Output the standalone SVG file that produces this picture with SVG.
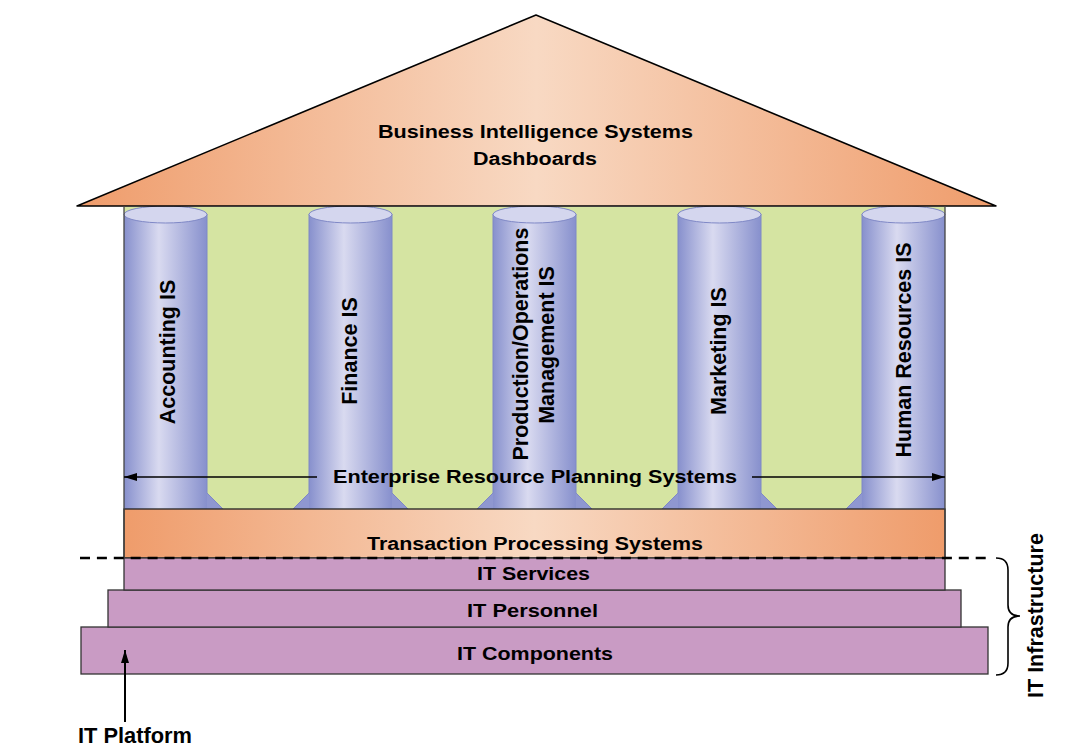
<svg xmlns="http://www.w3.org/2000/svg" width="1091" height="751" viewBox="0 0 1091 751">
<defs>
<linearGradient id="orange" x1="0" y1="0" x2="1" y2="0">
<stop offset="0" stop-color="#EF9C6B"/>
<stop offset="0.5" stop-color="#F8D9C3"/>
<stop offset="1" stop-color="#EF9C6B"/>
</linearGradient>
<linearGradient id="col" x1="0" y1="0" x2="1" y2="0">
<stop offset="0" stop-color="#8790CD"/>
<stop offset="0.42" stop-color="#D9DAF0"/>
<stop offset="1" stop-color="#8790CD"/>
</linearGradient>
<marker id="arr" viewBox="0 0 13 8" refX="13" refY="4" markerWidth="13" markerHeight="8" markerUnits="userSpaceOnUse" orient="auto">
<path d="M0,0 L13,4 L0,8 Z" fill="#000"/>
</marker>
</defs>
<style>
text{font-family:"Liberation Sans",Arial,sans-serif;font-weight:bold;fill:#000}
.h{font-size:17.5px;text-anchor:middle}
.v{font-size:21.5px;text-anchor:middle}
.body{fill:url(#col)}
.flare{fill:#8F97D0}
.edge{fill:none;stroke:#7F88C6;stroke-width:1}
.cap{fill:#D4D6EE;stroke:#7F88C6;stroke-width:1}
.layer{fill:#C99BC4;stroke:#333;stroke-width:1.3}
.ln{stroke:#000;stroke-width:1.6;fill:none}
</style>
<rect width="1091" height="751" fill="#fff"/>

<g id="building">
<rect x="124" y="207" width="821" height="302" fill="#D5E4A2"/>
</g>

<g id="col-accounting">
<rect class="body" x="124" y="214" width="83" height="295"/>
<polygon class="flare" points="207,493 223,509 207,509"/>
<path class="edge" d="M207,214 L207,493 L223,509"/>
<ellipse class="cap" cx="165.5" cy="214.5" rx="41.5" ry="8.5"/>
<text class="v" transform="translate(175,352) rotate(-90)">Accounting IS</text>
</g>

<g id="col-finance">
<rect class="body" x="309" y="214" width="83" height="295"/>
<polygon class="flare" points="309,493 293,509 309,509"/>
<polygon class="flare" points="392,493 408,509 392,509"/>
<path class="edge" d="M293,509 L309,493 L309,214 M392,214 L392,493 L408,509"/>
<ellipse class="cap" cx="350.5" cy="214.5" rx="41.5" ry="8.5"/>
<text class="v" transform="translate(357,351) rotate(-90)">Finance IS</text>
</g>

<g id="col-production">
<rect class="body" x="493" y="214" width="83" height="295"/>
<polygon class="flare" points="493,493 477,509 493,509"/>
<polygon class="flare" points="576,493 592,509 576,509"/>
<path class="edge" d="M477,509 L493,493 L493,214 M576,214 L576,493 L592,509"/>
<ellipse class="cap" cx="534.5" cy="214.5" rx="41.5" ry="8.5"/>
<text class="v" transform="translate(528,344) rotate(-90)">Production/Operations</text>
<text class="v" transform="translate(554,345) rotate(-90)">Management IS</text>
</g>

<g id="col-marketing">
<rect class="body" x="678" y="214" width="83" height="295"/>
<polygon class="flare" points="678,493 662,509 678,509"/>
<polygon class="flare" points="761,493 777,509 761,509"/>
<path class="edge" d="M662,509 L678,493 L678,214 M761,214 L761,493 L777,509"/>
<ellipse class="cap" cx="719.5" cy="214.5" rx="41.5" ry="8.5"/>
<text class="v" transform="translate(726,351) rotate(-90)">Marketing IS</text>
</g>

<g id="col-hr">
<rect class="body" x="862" y="214" width="83" height="295"/>
<polygon class="flare" points="862,493 846,509 862,509"/>
<path class="edge" d="M846,509 L862,493 L862,214"/>
<ellipse class="cap" cx="903.5" cy="214.5" rx="41.5" ry="8.5"/>
<text class="v" transform="translate(911,350) rotate(-90)">Human Resources IS</text>
</g>

<g id="roof">
<polygon points="77,206 536,15 996,206" fill="url(#orange)" stroke="#000" stroke-width="1.5" stroke-linejoin="round"/>
<text class="h" x="535.5" y="138" textLength="315" lengthAdjust="spacingAndGlyphs">Business Intelligence Systems</text>
<text class="h" x="535" y="165" textLength="124" lengthAdjust="spacingAndGlyphs">Dashboards</text>
</g>

<g id="erp">
<text class="h" x="535" y="483" textLength="404" lengthAdjust="spacingAndGlyphs">Enterprise Resource Planning Systems</text>
</g>

<g id="tps">
<rect x="124" y="509" width="821" height="49" fill="url(#orange)" stroke="#222" stroke-width="1.3"/>
<text class="h" x="535" y="550" textLength="336" lengthAdjust="spacingAndGlyphs">Transaction Processing Systems</text>
</g>

<g id="it-components">
<rect class="layer" x="81" y="627" width="907" height="47"/>
<text class="h" x="535" y="660" textLength="156" lengthAdjust="spacingAndGlyphs">IT Components</text>
</g>

<g id="it-personnel">
<rect class="layer" x="108" y="590" width="853" height="37"/>
<text class="h" x="532.5" y="617" textLength="131" lengthAdjust="spacingAndGlyphs">IT Personnel</text>
</g>

<g id="it-services">
<rect class="layer" x="124" y="558" width="821" height="32"/>
<text class="h" x="533.5" y="580" textLength="113" lengthAdjust="spacingAndGlyphs">IT Services</text>
</g>

<g id="edges">
<line x1="124" y1="206" x2="124" y2="558" stroke="#444" stroke-width="1.3"/>
<line x1="945" y1="206" x2="945" y2="558" stroke="#444" stroke-width="1.3"/>
</g>

<g id="connectors">
<line class="ln" x1="317" y1="477" x2="124" y2="477" marker-end="url(#arr)"/>
<line class="ln" x1="752" y1="477" x2="945" y2="477" marker-end="url(#arr)"/>
<line x1="80" y1="558" x2="985.7" y2="558" stroke="#000" stroke-width="2.6" stroke-dasharray="10 6.9"/>
<path class="ln" d="M996,558 Q1008,558 1008,570 L1008,605 Q1008,616 1020,616 Q1008,616 1008,627 L1008,663 Q1008,675 996,675"/>
<line x1="125" y1="722" x2="125" y2="650" stroke="#000" stroke-width="2" marker-end="url(#arr)"/>
</g>

<g id="label-it-infrastructure">
<text class="v" transform="translate(1043,615.5) rotate(-90)">IT Infrastructure</text>
</g>
<g id="label-it-platform">
<text x="78" y="743" font-size="21.5" textLength="114" lengthAdjust="spacingAndGlyphs">IT Platform</text>
</g>
</svg>
